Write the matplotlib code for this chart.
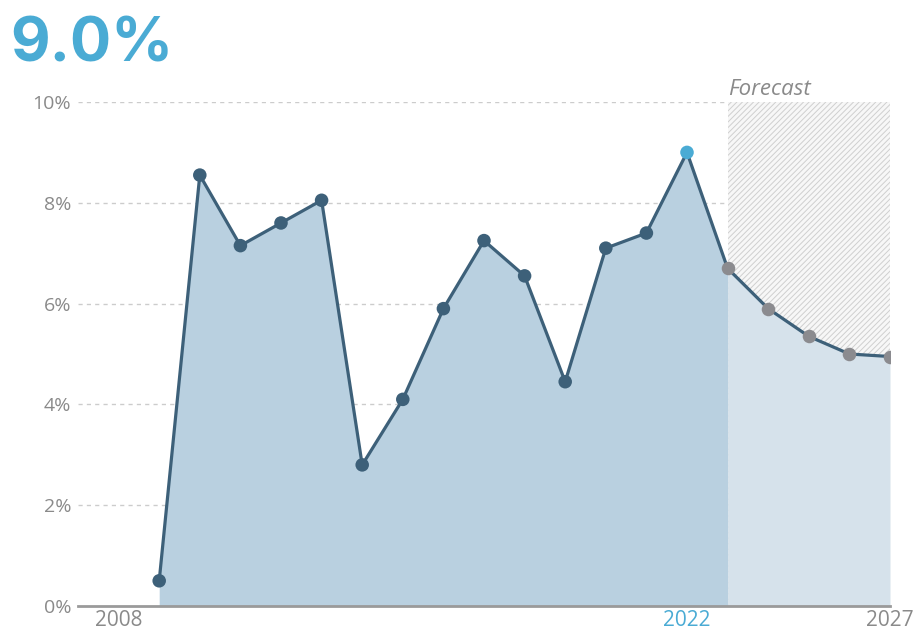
import matplotlib
matplotlib.use("Agg")
import matplotlib.pyplot as plt
import numpy as np

plt.rcParams['font.family'] = ['Open Sans', 'DejaVu Sans']
plt.rcParams['hatch.linewidth'] = 0.7
plt.rcParams['hatch.color'] = '#cfcfcf'

# Annual values (%)
years_hist = [2009, 2010, 2011, 2012, 2013, 2014, 2015, 2016, 2017,
              2018, 2019, 2020, 2021, 2022]
values_hist = [0.5, 8.55, 7.15, 7.6, 8.05, 2.8, 4.1, 5.9, 7.25,
               6.55, 4.45, 7.1, 7.4, 9.0]
years_fc = [2023, 2024, 2025, 2026, 2027]
values_fc = [6.7, 5.9, 5.35, 5.0, 4.95]

headline = "9.0%"
highlight_year = 2022
x_ticks = [2008, 2022, 2027]
y_ticks = [0, 2, 4, 6, 8, 10]

LINE = '#3d6079'
FILL_HIST = '#b9d0e0'
FILL_FC = '#d6e2eb'
ACCENT = '#4aabd4'
GREY_PT = '#8b8b8f'
TXT = '#8a8a8a'

fig = plt.figure(figsize=(9.16, 6.36), dpi=100)
ax = fig.add_axes([78/916, 30/636, 812/916, 504/636])

# forecast hatch band
fc_start = years_fc[0]
ax.fill_between([fc_start, years_fc[-1]], 0, 10, facecolor='#f7f7f7',
                edgecolor='#cfcfcf', hatch='//////', linewidth=0, zorder=1)

# area fills
all_years = years_hist + years_fc
all_vals = values_hist + values_fc
hx = years_hist + [fc_start]
hy = values_hist + [values_fc[0]]
ax.fill_between(hx, 0, hy, color=FILL_HIST, linewidth=0, zorder=2)
ax.fill_between(years_fc, 0, values_fc, color=FILL_FC, linewidth=0, zorder=2)

# line
ax.plot(all_years, all_vals, color=LINE, lw=2.3, zorder=4,
        solid_joinstyle='round')

# markers
hist_cols = [ACCENT if y == highlight_year else LINE for y in years_hist]
ax.scatter(years_hist, values_hist, s=95, c=hist_cols, zorder=5, linewidths=0)
ax.scatter(years_fc, values_fc, s=95, c=GREY_PT, zorder=5, linewidths=0)

ax.set_xlim(2007, 2027)
ax.set_ylim(0, 10)

for v in y_ticks[1:]:
    ax.axhline(v, color='#cccccc', lw=1, dashes=(3, 3), zorder=0.5)

for s in ['top', 'right', 'left']:
    ax.spines[s].set_visible(False)
ax.spines['bottom'].set_color('#9a9a9a')
ax.spines['bottom'].set_linewidth(2)
ax.spines['bottom'].set_zorder(6)

ax.set_yticks(y_ticks)
ax.set_yticklabels([f"{v}%" for v in y_ticks])
ax.set_xticks(x_ticks)
ax.set_xticklabels([str(y) for y in x_ticks])
ax.tick_params(length=0, colors=TXT)
ax.tick_params(axis='y', pad=5, labelsize=14)
ax.tick_params(axis='x', pad=3, labelsize=15)
for lab, y in zip(ax.get_xticklabels(), x_ticks):
    if y == highlight_year:
        lab.set_color(ACCENT)

ax.text(fc_start + 0.02, 10.04, "Forecast", ha='left',
        va='bottom', fontsize=16, style='italic', color=TXT)

fig.text(10/916, 1 - 61/636, headline, fontsize=44, fontweight='bold',
         color=ACCENT, ha='left', va='baseline',
         family=['Inter', 'DejaVu Sans'])

fig.savefig('out.png', dpi=100)
